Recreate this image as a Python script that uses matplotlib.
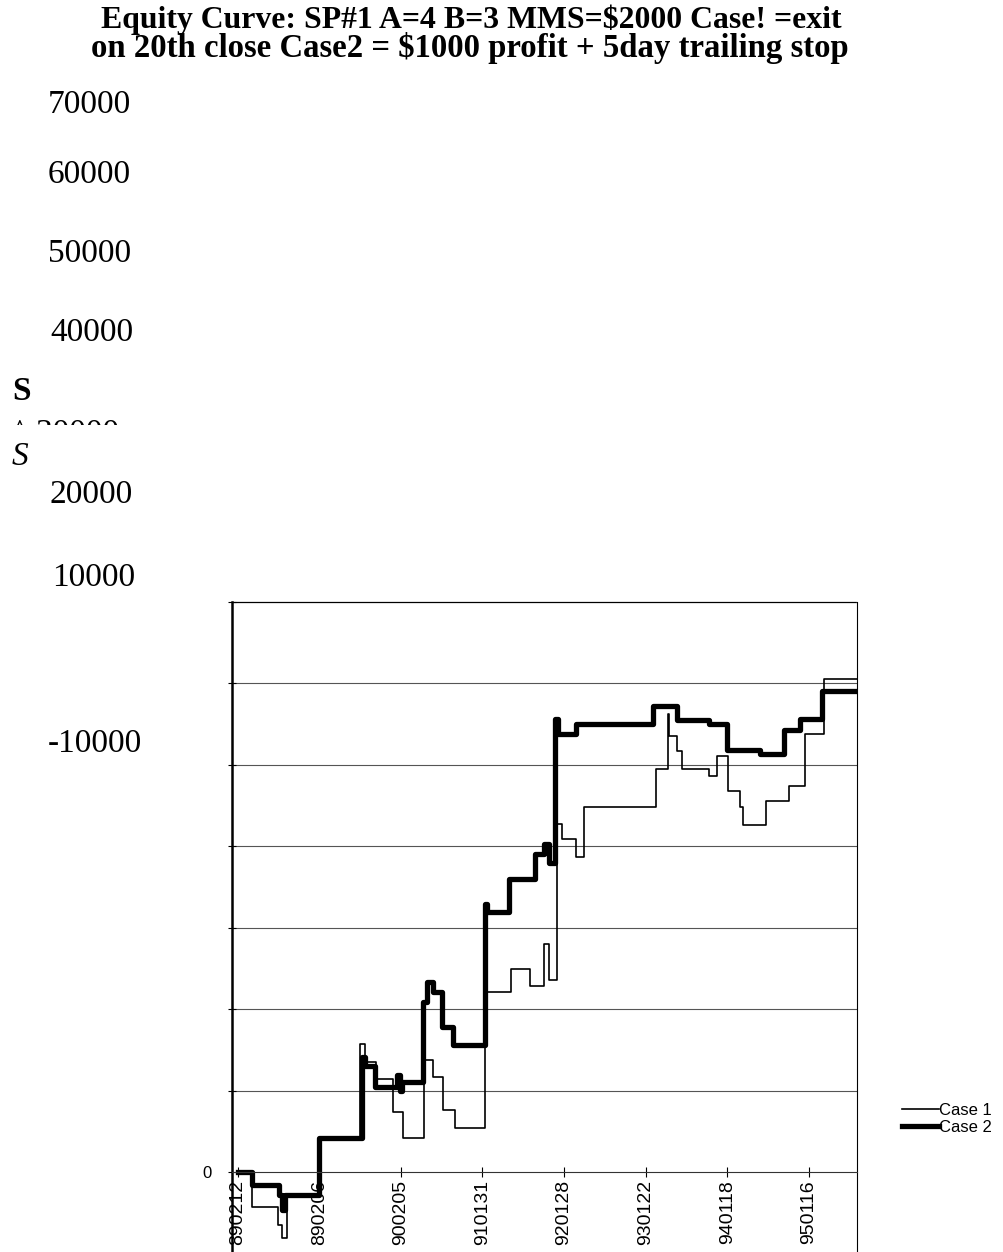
import matplotlib.pyplot as plt
from matplotlib.transforms import Bbox

# x in units of one label interval (roughly one year of trading days)
labels = ['890212', '890206', '900205', '910131', '920128', '930122', '940118', '950116']
label_pos = [0, 1, 2, 3, 4, 5, 6, 7]

# Case 1 = exit on 20th close (thin line), step values in $
case1_x = [0.00, 0.17, 0.49, 0.54, 0.61, 1.00, 1.50, 1.56, 1.70, 1.90, 2.03, 2.28, 2.39,
           2.52, 2.66, 3.03, 3.35, 3.58, 3.76, 3.82, 3.91, 3.97, 4.15, 4.25, 5.13, 5.27,
           5.29, 5.39, 5.44, 5.78, 5.87, 6.01, 6.15, 6.19, 6.48, 6.76, 6.95, 7.19, 7.59]
case1_y = [0, -4200, -6460, -8050, -2990, 4200, 15800, 13550, 11500, 7420, 4170, 13760, 11710,
           7630, 5390, 22120, 25000, 22820, 28050, 23560, 42750, 40900, 38650, 44800, 49500, 56200,
           53570, 51700, 49500, 48670, 51120, 46830, 44800, 42550, 45600, 47450, 53770, 60500, 60500]

# Case 2 = $1000 profit + 5day trailing stop (thick line)
case2_x = [0.00, 0.17, 0.51, 0.54, 0.58, 1.00, 1.52, 1.56, 1.68, 1.95, 1.99, 2.01, 2.27,
           2.32, 2.39, 2.50, 2.64, 3.03, 3.06, 3.33, 3.64, 3.76, 3.81, 3.89, 3.92, 4.14,
           5.09, 5.39, 5.78, 6.00, 6.40, 6.70, 6.89, 7.16, 7.59]
case2_y = [0, -1500, -2800, -4600, -2800, 4200, 14200, 13100, 10500, 12000, 10000, 11100, 20900,
           23300, 22100, 17840, 15600, 32900, 31900, 36000, 39000, 40300, 37900, 55600, 53800, 55000,
           57250, 55500, 55000, 51750, 51300, 54200, 55600, 59000, 59000]

# OCR'd axis labels scattered down the left side of the page: (text, x px, y px)
side_labels = [('70000', 48, 105), ('60000', 48, 175), ('50000', 48, 254), ('40000', 50, 333),
               ('20000', 50, 495), ('10000', 52, 578), ('-10000', 48, 744)]

W, H = 1004, 1252
fig = plt.figure(figsize=(W / 100, H / 100), dpi=100)
ax = fig.add_axes([232 / W, -0.0015, 625 / W, 652.2 / H])

ax.step(case1_x, case1_y, where='post', color='black', lw=1.2, label='Case 1')
ax.step(case2_x, case2_y, where='post', color='black', lw=3.8, label='Case 2',
        solid_joinstyle='round')

ax.set_xlim(-0.07, 7.59)
ax.set_ylim(-10000, 70000)
for g in range(10000, 70000, 10000):
    ax.axhline(g, color='#555555', lw=0.8, zorder=0)

ax.spines['bottom'].set_position(('data', 0))
ax.spines['bottom'].set_linewidth(0.8)
ax.spines['bottom'].set_linestyle((0, (2, 1)))
ax.spines['bottom'].set_color('#333333')
ax.spines['left'].set_linewidth(1.8)
ax.spines['top'].set_linewidth(0.9)
ax.spines['top'].set_linestyle((0, (3, 1)))
ax.spines['right'].set_linewidth(0.8)
ax.spines['right'].set_linestyle((0, (2, 1)))

ax.set_xticks(label_pos)
ax.set_xticklabels(labels, rotation=90, fontsize=14, family='Liberation Sans', va='top')
ax.tick_params(axis='x', direction='inout', length=7, width=0.8, pad=2)
ax.set_yticks(range(-10000, 70001, 10000))
ax.set_yticklabels(['0' if v == 0 else '' for v in range(-10000, 70001, 10000)],
                   fontsize=12, family='Liberation Sans')
ax.tick_params(axis='y', direction='inout', length=6, width=0.8, pad=12)

ax.legend(loc='upper left', bbox_to_anchor=(902 / W, 1 - 1103 / H), bbox_transform=fig.transFigure,
          frameon=False, prop={'family': 'Liberation Sans', 'size': 12}, handlelength=2.2,
          handletextpad=0.05, borderpad=0, borderaxespad=0, labelspacing=0.1)

# title
fig.text(471 / W, 1 - 28 / H, 'Equity Curve: SP#1 A=4 B=3 MMS=$2000 Case! =exit',
         ha='center', va='baseline', fontsize=22.9, fontweight='bold', family='Liberation Serif')
fig.text(470 / W, 1 - 57 / H, 'on 20th close Case2 = $1000 profit + 5day trailing stop',
         ha='center', va='baseline', fontsize=23.6, fontweight='bold', family='Liberation Serif')

for txt, x, y in side_labels:
    fig.text(x / W, 1 - y / H, txt, ha='left', va='center', fontsize=24, family='Liberation Serif')

fig.text(12 / W, 1 - 391 / H, 'S', ha='left', va='center', fontsize=24, fontweight='bold',
         family='Liberation Serif')
fig.text(12 / W, 1 - 457 / H, 'S', ha='left', va='center', fontsize=24, style='italic',
         family='Liberation Serif')
cut = fig.text(12 / W, 1 - 418 / H, '^ 30000', ha='left', va='top', fontsize=24,
               family='Liberation Serif')
cut.set_clip_box(Bbox([[0, H - 425], [300, H - 400]]))
cut.set_clip_on(True)

fig.savefig('out.png', dpi=100)
